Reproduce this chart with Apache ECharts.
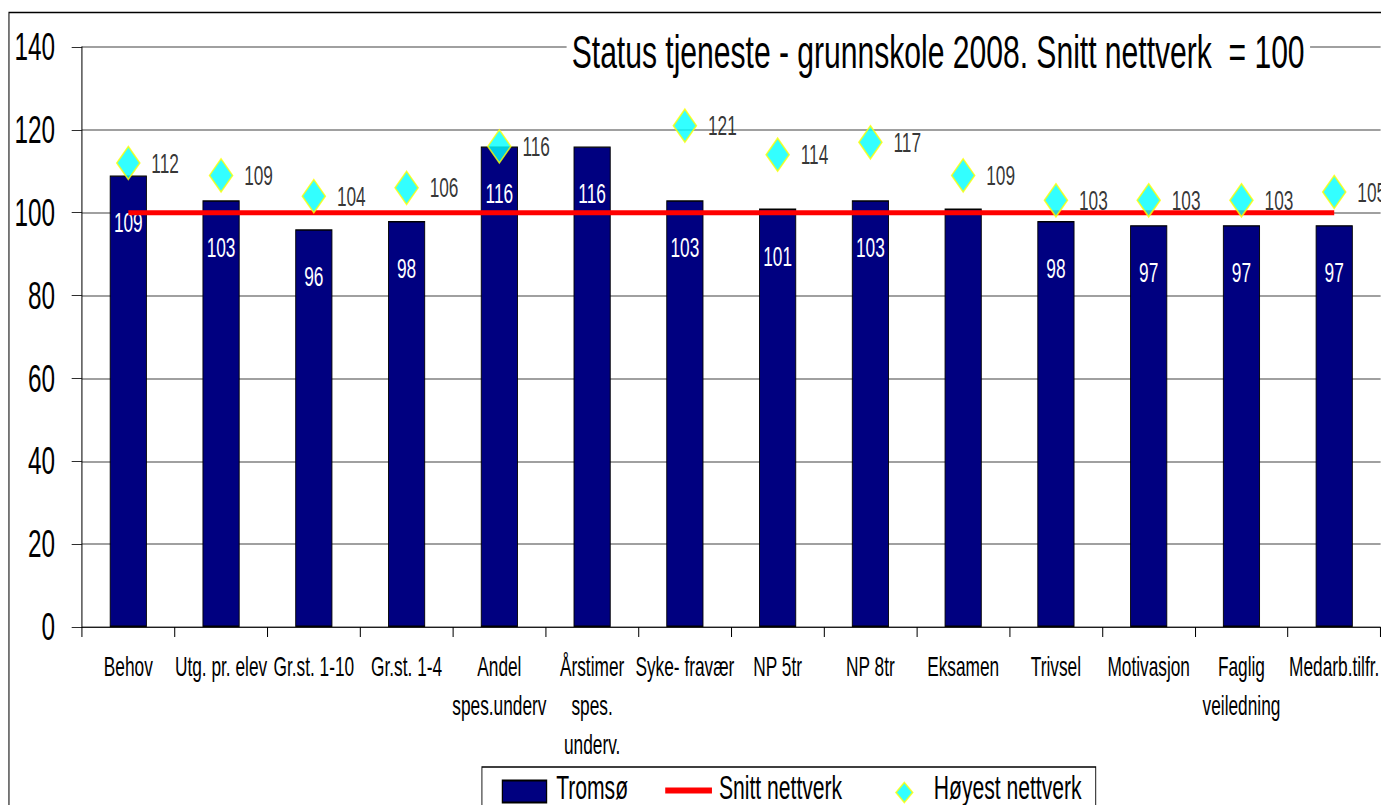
<!DOCTYPE html>
<html>
<head>
<meta charset="utf-8">
<script src="https://cdn.jsdelivr.net/npm/echarts@6/dist/echarts.min.js"></script>
<style>
  html, body { margin: 0; padding: 0; background: #fff; overflow: hidden; }
  /* the original uses a very narrow font; draw wide and squeeze horizontally */
  #chart { width: 2158px; height: 805px; transform: scaleX(0.64); transform-origin: 0 0; }
</style>
</head>
<body>
<div id="chart"></div>
<script>
const FONT = "'Liberation Sans', Arial, sans-serif"

const categories = [
  "Behov", "Utg. pr. elev", "Gr.st. 1-10", "Gr.st. 1-4", "Andel\nspes.underv",
  "Årstimer\nspes.\nunderv.", "Syke- fravær", "NP 5tr", "NP 8tr", "Eksamen",
  "Trivsel", "Motivasjon", "Faglig\nveiledning", "Medarb.tilfr."
]
const tromso = [109, 103, 96, 98, 116, 116, 103, 101, 103, 101, 98, 97, 97, 97]
// Eksamen has no value label in the original
const tromsoLabelShown = [true, true, true, true, true, true, true, true, true, false, true, true, true, true]
const snitt = [100, 100, 100, 100, 100, 100, 100, 100, 100, 100, 100, 100, 100, 100]
const hoyest = [112, 109, 104, 106, 116, null, 121, 114, 117, 109, 103, 103, 103, 105]
const yTicks = { min: 0, max: 140, interval: 20 }

// legend icons: zero-length strokes at the corners pin every icon to the full 73x30 box
const BOX = "M0,0 L0,0 M73,30 L73,30 "

const chart = echarts.init(document.getElementById("chart"), null, { renderer: "svg" })

chart.setOption({
  animation: false,
  textStyle: { fontFamily: FONT },
  title: {
    text: "Status tjeneste - grunnskole 2008. Snitt nettverk  = 100",
    right: 111,
    top: 28,
    padding: [0, 8],
    backgroundColor: "#fff",
    textStyle: { fontFamily: FONT, fontSize: 47, fontWeight: "normal", color: "#000" }
  },
  graphic: [
    {
      type: "rect",
      shape: { x: 14, y: 12.5, width: 2300, height: 820 },
      style: { fill: "none", stroke: "#000", lineWidth: 1.6 },
      z: -10
    }
  ],
  legend: {
    left: 753,
    top: 767,
    padding: [4, 22, 20, 31],
    borderColor: "#000",
    borderWidth: 1.4,
    itemWidth: 73,
    itemHeight: 30,
    itemGap: 58,
    symbolKeepAspect: true,
    textStyle: { fontFamily: FONT, fontSize: 33, color: "#000", padding: [0, 0, 0, 6] },
    data: [
      { name: "Tromsø", icon: "path://" + BOX + "M0,8 H69 V30 H0 Z" },
      { name: "Snitt nettverk", icon: "path://" + BOX + "M0,15 H73 V21 H0 Z" },
      { name: "Høyest nettverk", icon: "path://" + BOX + "M38,10 L51,20 L38,30 L25,20 Z" }
    ]
  },
  grid: { left: 128, width: 2036, top: 47, bottom: 178 },
  xAxis: {
    type: "category",
    data: categories,
    axisLine: { lineStyle: { color: "#000", width: 1 } },
    axisTick: { show: true, length: 10, lineStyle: { color: "#000", width: 1.6 } },
    axisLabel: {
      interval: 0,
      fontFamily: FONT,
      fontSize: 27,
      color: "#000",
      lineHeight: 39,
      margin: 20,
      verticalAlign: "top"
    }
  },
  yAxis: {
    type: "value",
    min: yTicks.min,
    max: yTicks.max,
    interval: yTicks.interval,
    axisLine: { show: true, lineStyle: { color: "#000", width: 1.6 } },
    axisTick: { show: true, length: 16, lineStyle: { color: "#000" } },
    axisLabel: { fontFamily: FONT, fontSize: 38, color: "#000", margin: 42 },
    splitLine: { lineStyle: { color: "#808080", width: 1.5 } }
  },
  series: [
    {
      name: "Tromsø",
      type: "bar",
      barWidth: 58,
      z: 2,
      itemStyle: { color: "#000080", borderColor: "#000", borderWidth: 1.4 },
      label: {
        show: true,
        position: "insideTop",
        distance: 34,
        color: "#fff",
        fontFamily: FONT,
        fontSize: 27
      },
      data: tromso.map((v, i) => ({ value: v, label: { show: tromsoLabelShown[i] } }))
    },
    {
      name: "Snitt nettverk",
      type: "line",
      z: 3,
      symbol: "none",
      itemStyle: { color: "#ff0000" },
      lineStyle: { color: "#ff0000", width: 5 },
      data: snitt
    },
    {
      name: "Høyest nettverk",
      type: "scatter",
      z: 4,
      symbol: "diamond",
      symbolSize: [36, 33],
      itemStyle: { color: "#00ffff", borderColor: "#ffff00", borderWidth: 2 },
      label: {
        show: true,
        position: "right",
        distance: 17,
        color: "#000",
        fontFamily: FONT,
        fontSize: 27
      },
      data: hoyest
    }
  ]
})
</script>
</body>
</html>
